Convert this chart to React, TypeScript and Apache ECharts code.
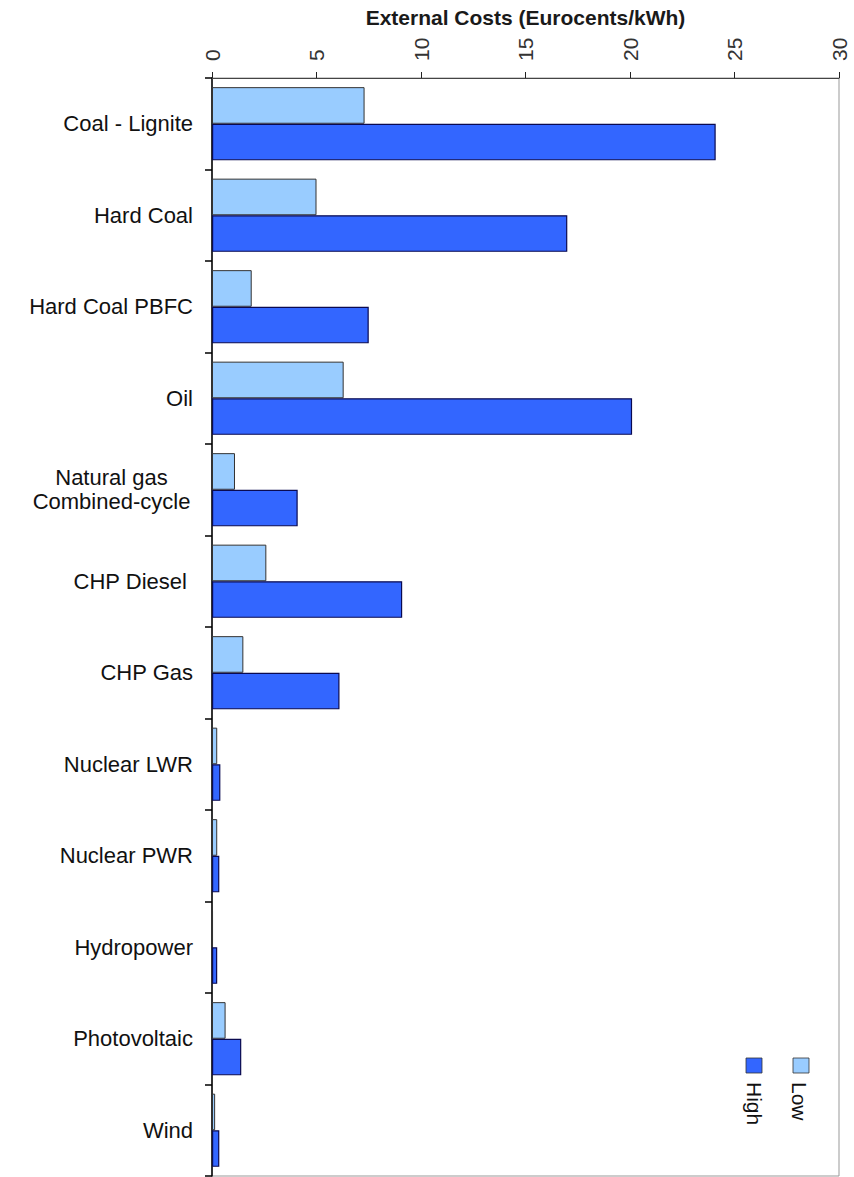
import React, { useEffect, useRef } from "react";
import * as echarts from "echarts";

const categories = [
  "Coal - Lignite",
  "Hard Coal",
  "Hard Coal PBFC",
  "Oil",
  "Natural gas\nCombined-cycle",
  "CHP Diesel ",
  "CHP Gas",
  "Nuclear LWR",
  "Nuclear PWR",
  "Hydropower",
  "Photovoltaic",
  "Wind",
];
const seriesNames = ["Low", "High"];
const lowValues = [7.3, 5.0, 1.9, 6.3, 1.1, 2.6, 1.5, 0.25, 0.25, 0.05, 0.65, 0.15];
const highValues = [24.1, 17.0, 7.5, 20.1, 4.1, 9.1, 6.1, 0.4, 0.35, 0.25, 1.4, 0.35];
const axisMin = 0;
const axisMax = 30;
const axisInterval = 5;
const axisTitle = "External Costs (Eurocents/kWh)";

const FONT = "'Liberation Sans', Arial, sans-serif";
const LOW_COLOR = "#99ccff";
const HIGH_COLOR = "#3366ff";

export default function App() {
  const ref = useRef<HTMLDivElement>(null);
  useEffect(() => {
    if (!ref.current) return;
    const chart = echarts.init(ref.current, undefined, { renderer: "svg" });
    const option: any = {
      animation: false,
      backgroundColor: "#ffffff",
      grid: {
        left: 212,
        right: 15,
        top: 78,
        bottom: 1,
        show: true,
        borderColor: "#999999",
        borderWidth: 1,
        containLabel: false,
        outerBoundsMode: "none",
      },
      xAxis: {
        type: "value",
        position: "top",
        min: axisMin,
        max: axisMax,
        interval: axisInterval,
        name: axisTitle,
        nameLocation: "middle",
        nameGap: 50,
        nameTextStyle: {
          fontFamily: FONT,
          fontWeight: "bold",
          fontSize: 21,
          color: "#1a1a1a",
        },
        axisLine: { show: true, lineStyle: { color: "#444", width: 1 } },
        axisTick: { show: true, length: 6, lineStyle: { color: "#222" } },
        axisLabel: {
          rotate: -90,
          margin: 17,
          fontFamily: FONT,
          fontSize: 21,
          color: "#333",
        },
        splitLine: { show: false },
      },
      yAxis: {
        type: "category",
        data: categories,
        inverse: true,
        axisLine: { show: true, lineStyle: { color: "#000", width: 1.5 } },
        axisTick: { show: true, length: 7, lineStyle: { color: "#000", width: 1.5 } },
        axisLabel: {
          margin: 19,
          fontFamily: FONT,
          fontSize: 22,
          color: "#111",
          formatter: (v: string) =>
            v.indexOf("\n") >= 0
              ? v
                  .split("\n")
                  .map((s) => "{c|" + s + "}")
                  .join("\n")
              : v,
          rich: {
            c: {
              width: 163,
              align: "center",
              fontFamily: FONT,
              fontSize: 22,
              color: "#111",
              lineHeight: 24,
            },
          },
        },
      },
      series: [
        {
          name: seriesNames[0],
          type: "bar",
          data: lowValues,
          barCategoryGap: "20%",
          barGap: "0%",
          itemStyle: { color: LOW_COLOR, borderColor: "#333", borderWidth: 1 },
        },
        {
          name: seriesNames[1],
          type: "bar",
          data: highValues,
          barCategoryGap: "20%",
          barGap: "0%",
          itemStyle: { color: HIGH_COLOR, borderColor: "#0a0a50", borderWidth: 1.2 },
        },
      ],
      graphic: [
        {
          type: "rect",
          shape: { x: 746, y: 1058, width: 16, height: 15 },
          style: { fill: HIGH_COLOR, stroke: "#333", lineWidth: 0.8 },
        },
        {
          type: "rect",
          shape: { x: 793, y: 1058, width: 16, height: 15 },
          style: { fill: LOW_COLOR, stroke: "#333", lineWidth: 0.8 },
        },
        {
          type: "text",
          x: 754,
          y: 1082,
          rotation: -Math.PI / 2,
          style: {
            text: seriesNames[1],
            fontFamily: FONT,
            fontSize: 21,
            fill: "#111",
            textAlign: "left",
            textVerticalAlign: "middle",
          },
        },
        {
          type: "text",
          x: 799,
          y: 1082,
          rotation: -Math.PI / 2,
          style: {
            text: seriesNames[0],
            fontFamily: FONT,
            fontSize: 21,
            fill: "#111",
            textAlign: "left",
            textVerticalAlign: "middle",
          },
        },
      ],
    };
    chart.setOption(option);
    return () => chart.dispose();
  }, []);
  return (
    <div
      ref={ref}
      style={{ position: "fixed", left: 0, top: 0, width: 854, height: 1177, background: "#fff" }}
    />
  );
}
